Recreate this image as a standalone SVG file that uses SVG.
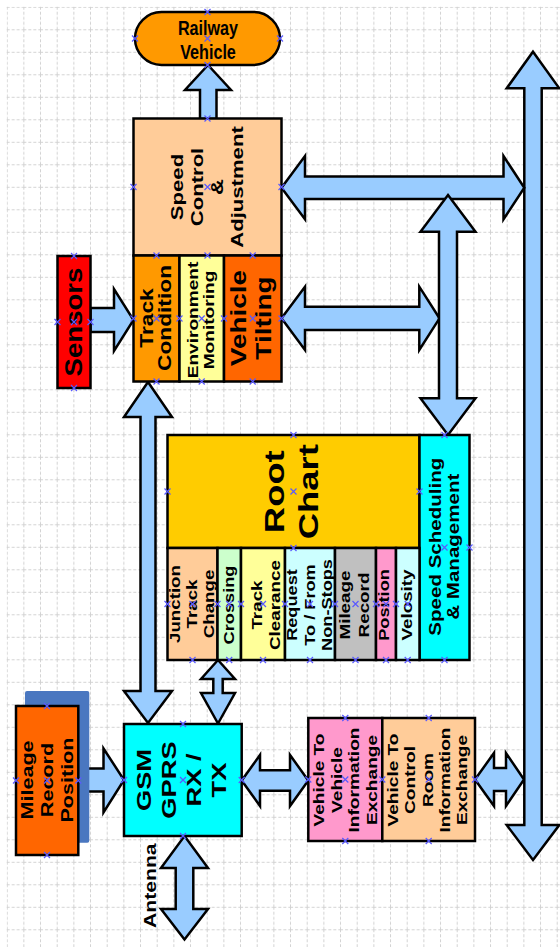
<svg xmlns="http://www.w3.org/2000/svg" xmlns:xlink="http://www.w3.org/1999/xlink" width="560" height="947" viewBox="0 0 560 947">
<style>
.n rect{stroke:#000;stroke-width:2.5}
.c polygon{fill:#99CCFF;stroke:#000;stroke-width:2.5;stroke-linejoin:miter}
text{font-family:"Liberation Sans",Arial,Helvetica,sans-serif;font-weight:bold;fill:#000;text-anchor:middle;dominant-baseline:central}
.h use{stroke:#5a5aff;stroke-width:1.2;fill:none}
</style>
<defs>
<pattern id="grid" x="6.7" y="6.8" width="16.667" height="22.5" patternUnits="userSpaceOnUse">
<path d="M0,0.5 H16.667 M0.5,0 V22.5" stroke="#d2d2d2" stroke-width="1" stroke-dasharray="3,2" fill="none"/>
</pattern>
<path id="xm" d="M-3,-3 L3,3 M-3,3 L3,-3"/>
</defs>
<rect x="0" y="0" width="560" height="947" fill="#fff"/>
<rect x="6.7" y="6.8" width="553.3" height="940.2" fill="url(#grid)"/>

<g id="connectors" class="c">
<polygon points="200,119 200,90 185,90 208,65 231,90 216.5,90 216.5,119"/>
<polygon points="90.5,308 114,308 114,289 133.5,320 114,351 114,332 90.5,332"/>
<polygon points="148,382 172,417 155.5,417 155.5,691 172,691 148,723 124,691 140.5,691 140.5,417 124,417"/>
<polygon points="218,660 235,679 222.7,679 222.7,693 235,693 218,723.5 201,693 213.3,693 213.3,679 201,679"/>
<polygon points="78.3,768.5 103.5,768.5 103.5,748.5 124,780 103.5,812.5 103.5,791.5 78.3,791.5"/>
<polygon points="184.5,836 208,868 193.3,868 193.3,909 208,909 184.5,939.5 161,909 175.7,909 175.7,868 161,868"/>
<polygon points="241.7,780.5 260,755 260,770.2 290,770.2 290,755 308.3,780.5 290,806 290,790.8 260,790.8 260,806"/>
<polygon points="475,779.5 494,753 494,768 506,768 506,753 524,779.5 506,806 506,791 494,791 494,806"/>
<polygon points="533,51.7 559.3,88.3 541.7,88.3 541.7,825 559.3,825 533,860 506.7,825 524.3,825 524.3,88.3 506.7,88.3"/>
<polygon points="281.5,187.7 305,156 305,176.5 503.5,176.5 503.5,156 524.3,187.7 503.5,219.3 503.5,199 305,199 305,219.3"/>
<polygon points="281.5,318.3 305,286.7 305,306.7 419.3,306.7 419.3,286.7 439.5,318.3 419.3,350 419.3,330 305,330 305,350"/>
<polygon points="448,195 475.5,231.7 457,231.7 457,398.3 475.5,398.3 448,435 420.5,398.3 439,398.3 439,231.7 420.5,231.7"/>
</g>

<g id="railway-vehicle" class="n">
<rect x="135" y="12" width="145" height="53" rx="26.5" fill="#FF9900"/>
<text transform="translate(208,39) scale(0.77,1)" font-size="21"><tspan x="0" y="-12.3">Railway</tspan><tspan x="0" y="12.3">Vehicle</tspan></text>
</g>
<g id="speed-control" class="n">
<rect x="133.5" y="118.5" width="148" height="137" fill="#FFCC99"/>
<text transform="translate(207,187) rotate(-90) scale(1.3,1)" font-size="17"><tspan x="0" y="-30">Speed</tspan><tspan x="0" y="-10">Control</tspan><tspan x="0" y="10">&amp;</tspan><tspan x="0" y="30">Adjustment</tspan></text>
</g>
<g id="track-condition" class="n">
<rect x="133.5" y="255.5" width="46" height="126" fill="#FF9900"/>
<text transform="translate(156,318) rotate(-90) scale(1.3,1)" font-size="17.5"><tspan x="0" y="-9.3">Track</tspan><tspan x="0" y="9">Condition</tspan></text>
</g>
<g id="environment-monitoring" class="n">
<rect x="179.5" y="255.5" width="44.5" height="126" fill="#FFFF99"/>
<text transform="translate(201,320) rotate(-90) scale(1.3,1)" font-size="14.7"><tspan x="0" y="-8.3">Environment</tspan><tspan x="0" y="8.3">Monitoring</tspan></text>
</g>
<g id="vehicle-tilting" class="n">
<rect x="224" y="255.5" width="57.5" height="126" fill="#FF6600"/>
<text transform="translate(251,318) rotate(-90) scale(1.3,1)" font-size="21.5"><tspan x="0" y="-12.5">Vehicle</tspan><tspan x="0" y="12.5">Tilting</tspan></text>
</g>
<g id="sensors" class="n">
<rect x="57.5" y="256" width="33" height="132" fill="#FF0000"/>
<text transform="translate(74,322) rotate(-90) scale(1.2,1)" font-size="23"><tspan x="0" y="0">Sensors</tspan></text>
</g>
<g id="root-chart" class="n">
<rect x="167.5" y="435" width="252" height="113" fill="#FFCC00"/>
<text transform="translate(291.7,491.7) rotate(-90) scale(1.3,1)" font-size="28"><tspan x="0" y="-16.7">Root</tspan><tspan x="0" y="16.7">Chart</tspan></text>
</g>
<g id="speed-scheduling" class="n">
<rect x="419.5" y="435" width="50" height="225" fill="#00FFFF"/>
<text transform="translate(444,546.7) rotate(-90) scale(1.3,1)" font-size="15.8"><tspan x="0" y="-9.2">Speed Scheduling</tspan><tspan x="0" y="9.2">&amp; Management</tspan></text>
</g>
<g id="junction-track-change" class="n">
<rect x="167.5" y="548" width="50" height="112" fill="#FFCC99"/>
<text transform="translate(191.7,604) rotate(-90) scale(1.3,1)" font-size="14.4"><tspan x="0" y="-16.7">Junction</tspan><tspan x="0" y="0">Track</tspan><tspan x="0" y="16.7">Change</tspan></text>
</g>
<g id="crossing" class="n">
<rect x="217.5" y="548" width="23.5" height="112" fill="#CCFFCC"/>
<text transform="translate(228.5,605) rotate(-90) scale(1.3,1)" font-size="14"><tspan x="0" y="0">Crossing</tspan></text>
</g>
<g id="track-clearance" class="n">
<rect x="241" y="548" width="44" height="112" fill="#FFFF99"/>
<text transform="translate(265.8,605) rotate(-90) scale(1.3,1)" font-size="14.5"><tspan x="0" y="-9.2">Track</tspan><tspan x="0" y="9.2">Clearance</tspan></text>
</g>
<g id="request-non-stops" class="n">
<rect x="285" y="548" width="50" height="112" fill="#CCFFFF"/>
<text transform="translate(309.5,605) rotate(-90) scale(1.3,1)" font-size="14"><tspan x="0" y="-17.5">Request</tspan><tspan x="0" y="0">To / From</tspan><tspan x="0" y="17.5">Non-Stops</tspan></text>
</g>
<g id="mileage-record" class="n">
<rect x="335" y="548" width="41" height="112" fill="#C0C0C0"/>
<text transform="translate(354.2,605) rotate(-90) scale(1.3,1)" font-size="14.5"><tspan x="0" y="-9.2">Mileage</tspan><tspan x="0" y="9.2">Record</tspan></text>
</g>
<g id="position" class="n">
<rect x="376" y="548" width="20" height="112" fill="#FF99CC"/>
<text transform="translate(384,605) rotate(-90) scale(1.3,1)" font-size="14"><tspan x="0" y="0">Position</tspan></text>
</g>
<g id="velosity" class="n">
<rect x="396" y="548" width="23.5" height="112" fill="#CCFFFF"/>
<text transform="translate(406.5,605) rotate(-90) scale(1.3,1)" font-size="14.5"><tspan x="0" y="0">Velosity</tspan></text>
</g>
<g id="mileage-record-position" class="n">
<rect x="25" y="691" width="64.3" height="151.7" rx="2" fill="#4A77C0" style="stroke:none"/>
<rect x="16" y="706" width="62.3" height="149" fill="#FF6600"/>
<text transform="translate(46.7,780) rotate(-90) scale(1.3,1)" font-size="16.6"><tspan x="0" y="-20">Mileage</tspan><tspan x="0" y="0">Record</tspan><tspan x="0" y="20">Position</tspan></text>
</g>
<g id="gsm-gprs" class="n">
<rect x="124" y="724" width="117.7" height="112" fill="#00FFFF"/>
<text transform="translate(180.8,780) rotate(-90) scale(1.3,1)" font-size="21"><tspan x="0" y="-37.5">GSM</tspan><tspan x="0" y="-12.5">GPRS</tspan><tspan x="0" y="12.5">RX /</tspan><tspan x="0" y="37.5">TX</tspan></text>
</g>
<g id="antenna-label">
<text transform="translate(150,885.7) rotate(-90) scale(1.3,1)" font-size="16.3"><tspan x="0" y="0">Antenna</tspan></text>
</g>
<g id="vehicle-to-vehicle" class="n">
<rect x="308.3" y="718" width="74" height="123" fill="#FF99CC"/>
<text transform="translate(345.4,780) rotate(-90) scale(1.3,1)" font-size="14.7"><tspan x="0" y="-26.5">Vehicle To</tspan><tspan x="0" y="-8.8">Vehicle</tspan><tspan x="0" y="8.8">Information</tspan><tspan x="0" y="26.5">Exchange</tspan></text>
</g>
<g id="vehicle-to-control-room" class="n">
<rect x="382.3" y="718" width="92.7" height="123" fill="#FFCC99"/>
<text transform="translate(427.5,780) rotate(-90) scale(1.3,1)" font-size="14.7"><tspan x="0" y="-34.4">Vehicle To</tspan><tspan x="0" y="-17.2">Control</tspan><tspan x="0" y="0">Room</tspan><tspan x="0" y="17.2">Information</tspan><tspan x="0" y="34.4">Exchange</tspan></text>
</g>

<g id="handles" class="h">
<use xlink:href="#xm" x="207.5" y="12"/><use xlink:href="#xm" x="135" y="38.5"/><use xlink:href="#xm" x="207.5" y="38.5"/><use xlink:href="#xm" x="280" y="38.5"/><use xlink:href="#xm" x="207.5" y="65"/>
<use xlink:href="#xm" x="207.5" y="118.5"/><use xlink:href="#xm" x="133.5" y="187"/><use xlink:href="#xm" x="207.5" y="187"/><use xlink:href="#xm" x="281.5" y="187"/><use xlink:href="#xm" x="207.5" y="255.5"/>
<use xlink:href="#xm" x="156.5" y="318.5"/><use xlink:href="#xm" x="156.5" y="255.5"/><use xlink:href="#xm" x="156.5" y="381.5"/><use xlink:href="#xm" x="133.5" y="318.5"/><use xlink:href="#xm" x="179.5" y="318.5"/>
<use xlink:href="#xm" x="201.7" y="318.5"/><use xlink:href="#xm" x="201.7" y="381.5"/><use xlink:href="#xm" x="224" y="318.5"/>
<use xlink:href="#xm" x="252.7" y="318.5"/><use xlink:href="#xm" x="252.7" y="255.5"/><use xlink:href="#xm" x="252.7" y="381.5"/><use xlink:href="#xm" x="281.5" y="318.5"/>
<use xlink:href="#xm" x="74" y="322"/><use xlink:href="#xm" x="74" y="256"/><use xlink:href="#xm" x="74" y="388"/><use xlink:href="#xm" x="57.5" y="322"/><use xlink:href="#xm" x="90.5" y="322"/>
<use xlink:href="#xm" x="293.5" y="491.5"/><use xlink:href="#xm" x="293.5" y="435"/><use xlink:href="#xm" x="293.5" y="548"/><use xlink:href="#xm" x="167.5" y="491.5"/><use xlink:href="#xm" x="419.5" y="491.5"/>
<use xlink:href="#xm" x="444.5" y="547.5"/><use xlink:href="#xm" x="444.5" y="435"/><use xlink:href="#xm" x="444.5" y="660"/><use xlink:href="#xm" x="469.5" y="547.5"/>
<use xlink:href="#xm" x="192.5" y="604"/><use xlink:href="#xm" x="192.5" y="660"/><use xlink:href="#xm" x="167.5" y="604"/><use xlink:href="#xm" x="217.5" y="604"/>
<use xlink:href="#xm" x="229.2" y="604"/><use xlink:href="#xm" x="229.2" y="660"/><use xlink:href="#xm" x="241" y="604"/>
<use xlink:href="#xm" x="263" y="604"/><use xlink:href="#xm" x="263" y="660"/><use xlink:href="#xm" x="285" y="604"/>
<use xlink:href="#xm" x="310" y="604"/><use xlink:href="#xm" x="310" y="660"/><use xlink:href="#xm" x="335" y="604"/>
<use xlink:href="#xm" x="355.5" y="604"/><use xlink:href="#xm" x="355.5" y="660"/><use xlink:href="#xm" x="376" y="604"/>
<use xlink:href="#xm" x="386" y="604"/><use xlink:href="#xm" x="386" y="660"/><use xlink:href="#xm" x="396" y="604"/>
<use xlink:href="#xm" x="407.7" y="604"/><use xlink:href="#xm" x="407.7" y="660"/>
<use xlink:href="#xm" x="47" y="780.5"/><use xlink:href="#xm" x="47" y="706"/><use xlink:href="#xm" x="47" y="855"/><use xlink:href="#xm" x="16" y="780.5"/><use xlink:href="#xm" x="78.3" y="780.5"/>
<use xlink:href="#xm" x="183" y="780"/><use xlink:href="#xm" x="183" y="724"/><use xlink:href="#xm" x="183" y="836"/><use xlink:href="#xm" x="124" y="780"/><use xlink:href="#xm" x="241.7" y="780"/>
<use xlink:href="#xm" x="345.3" y="779.5"/><use xlink:href="#xm" x="345.3" y="718"/><use xlink:href="#xm" x="345.3" y="841"/><use xlink:href="#xm" x="308.3" y="779.5"/><use xlink:href="#xm" x="382.3" y="779.5"/>
<use xlink:href="#xm" x="428.7" y="779.5"/><use xlink:href="#xm" x="428.7" y="718"/><use xlink:href="#xm" x="428.7" y="841"/><use xlink:href="#xm" x="475" y="779.5"/>
</g>
</svg>
